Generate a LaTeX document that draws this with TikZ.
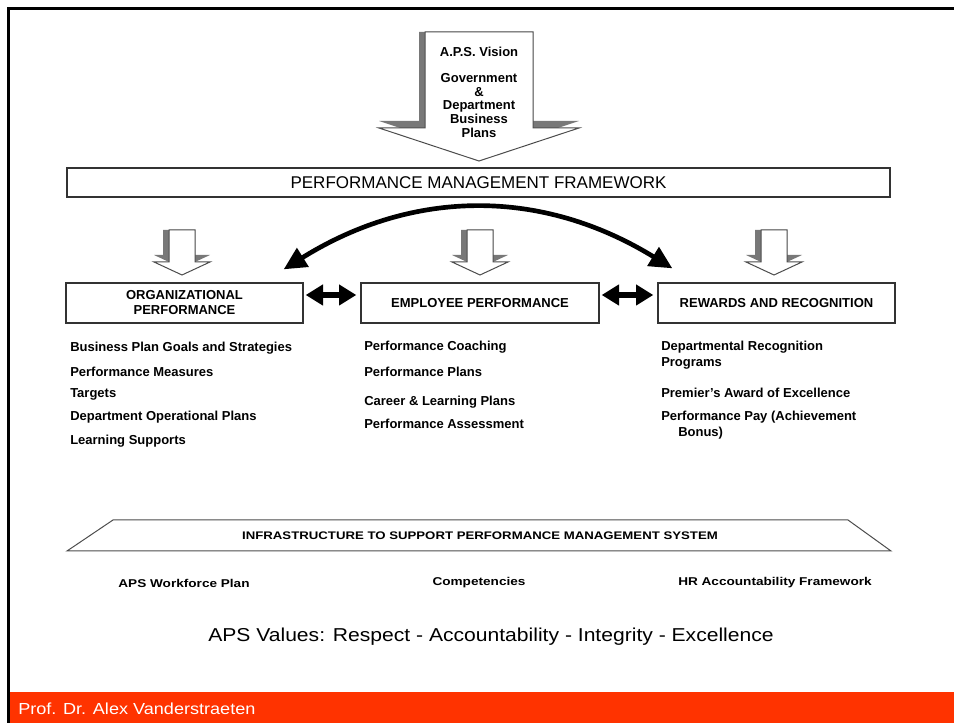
\documentclass[tikz,border=0pt]{standalone}
\usepackage{fontspec}
\setmainfont{Liberation Sans}
\newfontfamily\widesans[FakeStretch=1.2]{Liberation Sans}
\newfontfamily\footsans[FakeStretch=1.13]{Liberation Sans}
\usetikzlibrary{arrows.meta, positioning, calc}
\definecolor{footerred}{RGB}{255,51,0}
\definecolor{shadegray}{RGB}{120,120,120}
% block arrow: centre x, top y, half shaft, wing y, half head, tip y
\newcommand{\blockarrow}[6]{%
    \fill[shadegray] (#1-#3-6,#2) -- (#1+#3,#2) -- (#1+#3,#4-7) -- (#1+#5,#4-7) -- (#1,#6-7) -- (#1-#5,#4-7) -- (#1-#3-6,#4-7) -- cycle;
    \draw[blockline] (#1-#3,#2) -- (#1+#3,#2) -- (#1+#3,#4) -- (#1+#5,#4) -- (#1,#6) -- (#1-#5,#4) -- (#1-#3,#4) -- cycle;
}
\tikzset{
    blockline/.style={draw=black!70, fill=white, line width=0.75pt},
    framebox/.style={draw=black!80, line width=1pt, fill=white, inner sep=0pt, align=center,
        font=\fontsize{9.75}{11.25}\selectfont\bfseries},
    listitem/.style={anchor=west, inner sep=0pt, align=left, font=\fontsize{9.75}{12}\selectfont\bfseries},
    pairarrow/.style={{Triangle[length=13pt,width=15pt]}-{Triangle[length=13pt,width=15pt]}, line width=4.5pt},
    swingarrow/.style={{Triangle[length=17pt,width=16pt]}-{Triangle[length=17pt,width=16pt]}, line width=3.5pt},
    baselabel/.style={inner sep=0pt, font=\widesans\fontsize{8.5}{10}\selectfont\bfseries}
}

\begin{document}
\begin{tikzpicture}[x=0.75pt, y=-0.75pt]
    \useasboundingbox (0,0) rectangle (954,723);

    % --- Frame and footer ---
    \draw[line width=2.25pt] (954,8.5) -- (8.5,8.5) -- (8.5,723);
    \fill[footerred] (10,692) rectangle (954,723);
    \node[anchor=west, inner sep=0pt, text=white, font=\footsans\fontsize{12}{14}\selectfont] (author) at (18,709) {Prof. Dr. Alex Vanderstraeten};

    % --- Vision arrow ---
    \blockarrow{479}{32}{54}{128}{100}{161}
    \node[inner sep=0pt, font=\fontsize{9.75}{10.3}\selectfont\bfseries] (vision) at (479,52) {A.P.S. Vision};
    \node[inner sep=0pt, align=center, font=\fontsize{9.75}{10.3}\selectfont\bfseries] (plans) at (479,105.5) {Government\\\&\\Department\\Business\\Plans};

    % --- Framework bar ---
    \node[framebox, font=\fontsize{12.75}{14}\selectfont, minimum width=823*0.75pt, minimum height=29*0.75pt] (pmf) at (478.5,182.5) {PERFORMANCE MANAGEMENT FRAMEWORK};

    % --- Three pillars ---
    \foreach \cx in {182,480,774} {
        \blockarrow{\cx}{230}{13}{262}{28}{275}
    }
    \node[framebox, minimum width=237*0.75pt, minimum height=40*0.75pt] (org) at (184.5,303) {ORGANIZATIONAL\\PERFORMANCE};
    \node[framebox, minimum width=238*0.75pt, minimum height=40*0.75pt] (emp) at (480,303) {EMPLOYEE PERFORMANCE};
    \node[framebox, minimum width=237*0.75pt, minimum height=40*0.75pt] (rew) at (776.5,303) {REWARDS AND RECOGNITION};

    \draw[pairarrow, shorten <=1.5pt, shorten >=3pt] ([yshift=6pt]org.east) -- ([yshift=6pt]emp.west);
    \draw[pairarrow, shorten <=1.5pt, shorten >=3pt] ([yshift=6pt]emp.east) -- ([yshift=6pt]rew.west);

    \coordinate (tipL) at ($(org.north east)+(-20,-13)$);
    \coordinate (tipR) at ($(rew.north west)+(15,-14)$);
    \draw[swingarrow] (tipL) .. controls +(130,-81) and +(-130,-80) .. (tipR);

    % --- Lists under the pillars ---
    \foreach \y/\txt in {348/Business Plan Goals and Strategies, 372/Performance Measures, 394/Targets, 417/Department Operational Plans, 441/Learning Supports} {
        \node[listitem] (org-\y) at (70,\y) {\txt};
    }
    \foreach \y/\txt in {347/Performance Coaching, 372/Performance Plans, 402/Career \& Learning Plans, 424/Performance Assessment} {
        \node[listitem] (emp-\y) at (364,\y) {\txt};
    }
    \node[listitem] (rew-1) at (661,355) {Departmental Recognition\\Programs};
    \node[listitem] (rew-2) at (661,393) {Premier's Award of Excellence};
    \node[listitem] (rew-3) at (661,425.5) {Performance Pay (Achievement\\\hspace*{12.75pt}Bonus)};

    % --- Infrastructure ---
    \draw[draw=black!70, line width=0.75pt] (113,520) -- (848,520) -- (891,551) -- (67,551) -- cycle;
    \node[baselabel, font=\widesans\fontsize{8.25}{10}\selectfont\bfseries] (infra) at (480,535.5) {INFRASTRUCTURE TO SUPPORT PERFORMANCE MANAGEMENT SYSTEM};
    \node[baselabel] (workforce) at (184,583) {APS Workforce Plan};
    \node[baselabel] (compet) at (479,583) {Competencies};
    \node[baselabel] (hracc) at (775,583) {HR Accountability Framework};

    \node[inner sep=0pt, font=\footsans\fontsize{14}{16}\selectfont] (values) at (491,637) {APS Values: Respect - Accountability - Integrity - Excellence};
\end{tikzpicture}
\end{document}
